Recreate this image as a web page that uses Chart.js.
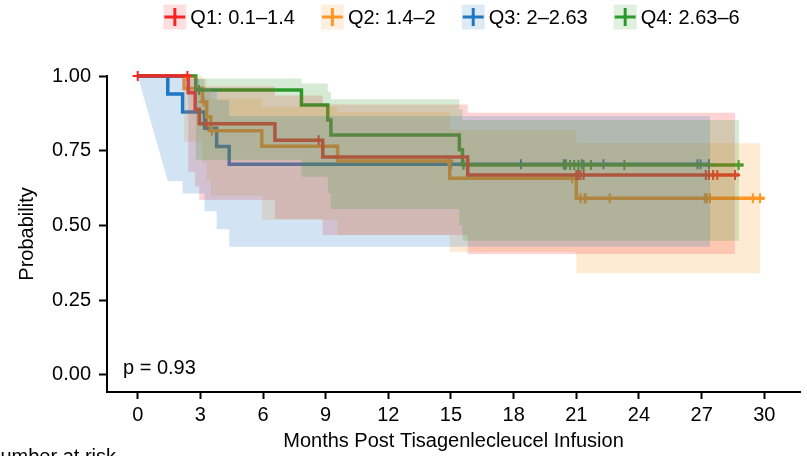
<!DOCTYPE html>
<html>
<head>
<meta charset="utf-8">
<script src="https://cdn.jsdelivr.net/npm/chart.js@4.4.1/dist/chart.umd.min.js"></script>
<style>
  html, body { margin: 0; padding: 0; background: #fff; }
  #wrap { width: 807px; height: 456px; }
</style>
</head>
<body>
<div id="wrap"><canvas id="km" width="807" height="456"></canvas></div>
<script>
const groupNames = ['Q1: 0.1\u20131.4', 'Q2: 1.4\u20132', 'Q3: 2\u20132.63', 'Q4: 2.63\u20136'];
const groupColors = ['#FA2323', '#FF9626', '#1F77C4', '#2B9A2B'];

const xTicks = [0, 3, 6, 9, 12, 15, 18, 21, 24, 27, 30];
const yTicks = [0, 0.25, 0.5, 0.75, 1];

// Q1
const q1Time  = [0, 2.42, 2.75, 2.95, 6.57, 8.86, 15.8];
const q1Surv  = [1, 0.944, 0.889, 0.840, 0.785, 0.729, 0.669];
const q1Upper = [1, 1.0, 0.99, 0.965, 0.935, 0.905, 0.877];
const q1Lower = [1, 0.68, 0.63, 0.585, 0.522, 0.468, 0.405];
const q1End = 28.8, q1BandEnd = 28.6;
const q1Censor = [0, 2.38, 3.3, 8.66, 21.0, 21.1, 21.2, 21.35, 27.2, 27.35, 27.55, 27.75, 28.6];

// Q2
const q2Time  = [0, 2.22, 3.1, 3.3, 3.5, 5.94, 9.57, 14.94, 21.0];
const q2Surv  = [1, 0.958, 0.914, 0.864, 0.817, 0.765, 0.716, 0.658, 0.591];
const q2Upper = [1, 1.0, 0.99, 0.96, 0.925, 0.897, 0.88, 0.819, 0.775];
const q2Lower = [1, 0.78, 0.71, 0.65, 0.60, 0.518, 0.468, 0.412, 0.34];
const q2End = 30.0, q2BandEnd = 29.8;
const q2Censor = [3.15, 3.55, 14.87, 20.8, 21.2, 21.4, 21.45, 22.6, 27.15, 27.25, 27.4, 29.45, 29.8];

// Q3
const q3Time  = [0, 1.44, 2.15, 3.2, 3.78, 4.38];
const q3Surv  = [1, 0.940, 0.880, 0.825, 0.764, 0.705];
const q3Upper = [1, 1.0, 0.99, 0.96, 0.92, 0.866];
const q3Lower = [1, 0.649, 0.607, 0.548, 0.487, 0.429];
const q3End = 27.4, q3BandEnd = 27.4;
const q3Censor = [15.0, 18.35, 20.4, 20.5, 21.26, 22.3, 26.8, 26.95, 27.35];

// Q4
const q4Time  = [0, 2.78, 7.84, 9.1, 9.25, 15.4, 15.55];
const q4Surv  = [1, 0.953, 0.903, 0.853, 0.803, 0.753, 0.702];
const q4Upper = [1, 0.992, 0.975, 0.947, 0.922, 0.889, 0.853];
const q4Lower = [1, 0.72, 0.663, 0.607, 0.555, 0.50, 0.449];
const q4End = 29.0, q4BandEnd = 28.8;
const q4Censor = [2.94, 15.6, 20.45, 20.7, 20.9, 21.1, 21.35, 21.7, 23.3, 28.77];

const FONT = '"Liberation Sans", Arial, sans-serif';

// lower order is painted on top: bands above all lines, Q4 band uppermost, Q1 line uppermost
const bandOrder = [-1, -2, -3, -4];
const lineOrder = [1, 3, 4, 2];

const groups = [
    { time: q1Time, surv: q1Surv, upper: q1Upper, lower: q1Lower, end: q1End, bandEnd: q1BandEnd, censor: q1Censor, slant: false },
    { time: q2Time, surv: q2Surv, upper: q2Upper, lower: q2Lower, end: q2End, bandEnd: q2BandEnd, censor: q2Censor, slant: false },
    { time: q3Time, surv: q3Surv, upper: q3Upper, lower: q3Lower, end: q3End, bandEnd: q3BandEnd, censor: q3Censor, slant: true },
    { time: q4Time, surv: q4Surv, upper: q4Upper, lower: q4Lower, end: q4End, bandEnd: q4BandEnd, censor: q4Censor, slant: false }
];

function fade(hex, a) {
    const n = parseInt(hex.slice(1), 16);
    return `rgba(${(n >> 16) & 255}, ${(n >> 8) & 255}, ${n & 255}, ${a})`;
}

// corner points of a step band; the Q3 lower band starts with a sloped segment
function stepPoints(times, vals, end, slantFirst) {
    const pts = [];
    for (let i = 0; i < times.length; i++) {
        const next = i + 1 < times.length ? times[i + 1] : end;
        pts.push({ x: times[i], y: vals[i] });
        pts.push({ x: next, y: (slantFirst && i === 0) ? vals[1] : vals[i] });
    }
    return pts;
}

function survAt(g, t) {
    let v = g.surv[0];
    g.time.forEach((tt, k) => { if (tt <= t) v = g.surv[k]; });
    return v;
}

const datasets = [];
groups.forEach((g, i) => {
    const col = groupColors[i];
    datasets.push({
        data: stepPoints(g.time, g.upper, g.bandEnd, false),
        borderColor: 'transparent', borderWidth: 0, pointRadius: 0,
        backgroundColor: fade(col, 0.2), fill: false, order: bandOrder[i]
    });
    datasets.push({
        data: stepPoints(g.time, g.lower, g.bandEnd, g.slant),
        borderColor: 'transparent', borderWidth: 0, pointRadius: 0,
        backgroundColor: fade(col, 0.2), fill: '-1', order: bandOrder[i]
    });
});
groups.forEach((g, i) => {
    const col = groupColors[i];
    const pts = g.time.map((t, k) => ({ x: t, y: g.surv[k] }));
    pts.push({ x: g.end, y: g.surv[g.surv.length - 1] });
    // chart.js 'before' = horizontal first, then the drop (KM style)
    datasets.push({
        data: pts, stepped: 'before', borderColor: col, borderWidth: 3.5,
        pointRadius: 0, fill: false, order: lineOrder[i], clip: false
    });
    datasets.push({
        data: g.censor.map(t => ({ x: t, y: survAt(g, t) })),
        showLine: false, pointStyle: 'cross', pointRadius: 5,
        pointBorderWidth: 2, borderColor: col, backgroundColor: col,
        order: lineOrder[i], clip: false
    });
});

const decor = {
    id: 'decor',
    afterDraw(chart) {
        const ctx = chart.ctx;
        const area = chart.chartArea;
        ctx.save();
        ctx.font = '20px ' + FONT;
        const boxW = 23, boxH = 25, gap = 4, itemGap = 26, cy = 17;
        const widths = groupNames.map(n => ctx.measureText(n).width);
        const total = widths.reduce((a, w) => a + boxW + gap + w, 0) + itemGap * (groupNames.length - 1);
        let x = (area.left + area.right) / 2 - total / 2 - 2;
        groupNames.forEach((name, i) => {
            ctx.fillStyle = fade(groupColors[i], 0.15);
            ctx.fillRect(x, cy - boxH / 2, boxW, boxH);
            ctx.strokeStyle = groupColors[i];
            ctx.lineWidth = 3;
            ctx.beginPath();
            ctx.moveTo(x + 1, cy); ctx.lineTo(x + boxW - 1, cy);
            ctx.moveTo(x + boxW / 2, cy - 9); ctx.lineTo(x + boxW / 2, cy + 9);
            ctx.stroke();
            ctx.fillStyle = '#000';
            ctx.textAlign = 'left';
            ctx.textBaseline = 'middle';
            ctx.fillText(name, x + boxW + gap, cy + 1);
            x += boxW + gap + widths[i] + itemGap;
        });
        ctx.fillText('p = 0.93', 123, 368);
        ctx.textBaseline = 'top';
        ctx.fillText('Number at risk', -14, 447);
        ctx.restore();
    }
};

new Chart(document.getElementById('km').getContext('2d'), {
    type: 'line',
    data: { datasets },
    options: {
        responsive: false,
        animation: false,
        layout: { padding: { top: 76, left: 0, right: 0, bottom: 0 } },
        plugins: { legend: { display: false }, tooltip: { enabled: false } },
        scales: {
            x: {
                type: 'linear', min: -1.47, max: 31.71,
                afterBuildTicks: s => { s.ticks = xTicks.map(v => ({ value: v })); },
                afterFit: s => { s.height = 64; },
                grid: { drawOnChartArea: false, drawTicks: true, tickLength: 7, tickWidth: 2, tickColor: '#000' },
                border: { display: true, color: '#000', width: 2 },
                ticks: { color: '#000', font: { family: FONT, size: 20 }, padding: 4, maxRotation: 0 },
                title: { display: true, text: 'Months Post Tisagenlecleucel Infusion', color: '#000',
                         font: { family: FONT, size: 20 }, padding: { top: 0, bottom: 3 } }
            },
            y: {
                type: 'linear', min: -0.057, max: 1.0,
                afterBuildTicks: s => { s.ticks = yTicks.map(v => ({ value: v })); },
                afterFit: s => { s.width = 107; },
                grid: { drawOnChartArea: false, drawTicks: true, tickLength: 8, tickWidth: 2, tickColor: '#000' },
                border: { display: true, color: '#000', width: 2 },
                ticks: { color: '#000', font: { family: FONT, size: 20 }, padding: 8,
                         callback: v => Number(v).toFixed(2) },
                title: { display: true, text: 'Probability', color: '#000',
                         font: { family: FONT, size: 20 }, padding: { top: 15, bottom: 0 } }
            }
        }
    },
    plugins: [decor]
});
</script>
</body>
</html>
